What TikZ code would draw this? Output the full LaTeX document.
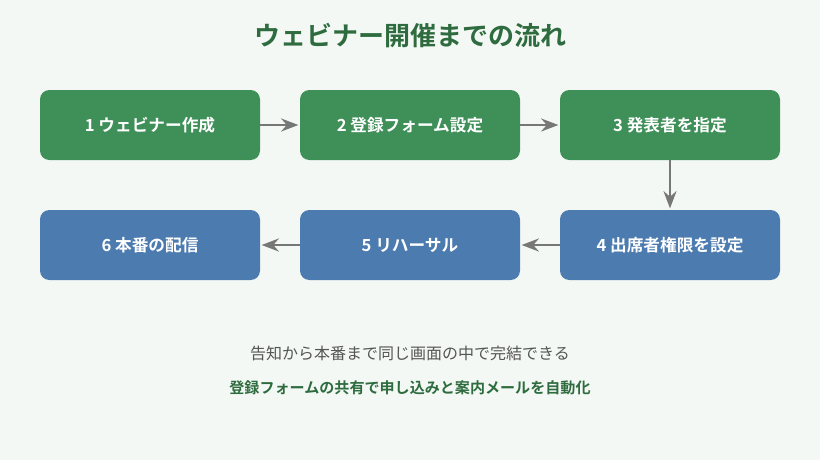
\documentclass[tikz,border=0pt]{standalone}
\usepackage{fontspec}
\setmainfont{Noto Sans CJK JP}[BoldFont={Noto Sans CJK JP Bold}]
\usetikzlibrary{arrows.meta, positioning}
\definecolor{bgmint}{HTML}{F3F8F4}
\definecolor{titlegreen}{HTML}{2E6B3E}
\definecolor{stepgreen}{HTML}{3E8F58}
\definecolor{stepblue}{HTML}{4C7BB0}
\definecolor{arrowgray}{HTML}{777777}
\definecolor{notegray}{HTML}{555555}
\begin{document}
\begin{tikzpicture}[x=0.75pt, y=-0.75pt, >=Stealth,
    stepbox/.style={rounded corners=7pt, minimum width=165pt, minimum height=52.5pt,
      text=white, font=\bfseries\fontsize{12.5}{15}\selectfont, inner sep=0pt},
    greenstep/.style={stepbox, fill=stepgreen},
    bluestep/.style={stepbox, fill=stepblue},
    flow/.style={->, arrowgray, line width=2.2pt, shorten >=1pt}
  ]

  % Background
  \fill[bgmint] (0,0) rectangle (820,460);
  \useasboundingbox (0,0) rectangle (820,460);

  % Title
  \node[titlegreen, font=\bfseries\fontsize{19.5}{23}\selectfont] (title) at (410,36) {ウェビナー開催までの流れ};

  % First row
  \node[greenstep] (s1) at (150,125) {1 ウェビナー作成};
  \node[greenstep] (s2) at (410,125) {2 登録フォーム設定};
  \node[greenstep] (s3) at (670,125) {3 発表者を指定};

  % Second row
  \node[bluestep] (s4) at (670,245) {4 出席者権限を設定};
  \node[bluestep] (s5) at (410,245) {5 リハーサル};
  \node[bluestep] (s6) at (150,245) {6 本番の配信};

  % Connectors
  \draw[flow] (s1) -- (s2);
  \draw[flow] (s2) -- (s3);
  \draw[flow] (s3) -- (s4);
  \draw[flow] (s4) -- (s5);
  \draw[flow] (s5) -- (s6);

  % Notes
  \node[notegray, font=\fontsize{12}{14}\selectfont] (note1) at (410,353) {告知から本番まで同じ画面の中で完結できる};
  \node[titlegreen, font=\bfseries\fontsize{11.3}{14}\selectfont] (note2) at (410,388) {登録フォームの共有で申し込みと案内メールを自動化};

\end{tikzpicture}
\end{document}
